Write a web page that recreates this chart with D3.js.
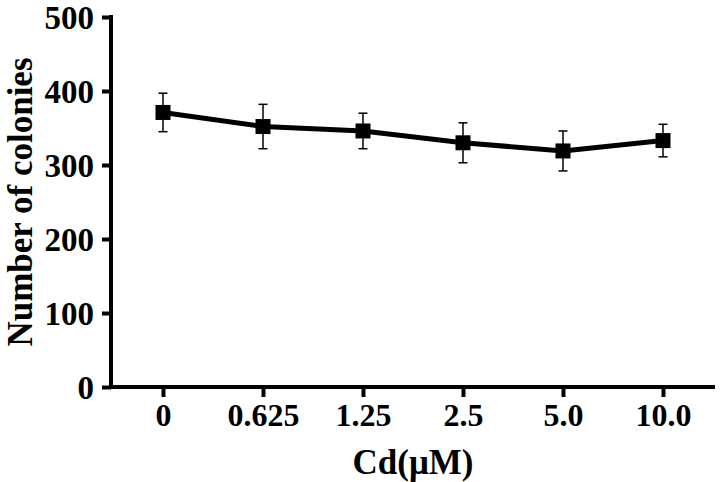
<!DOCTYPE html>
<html>
<head>
<meta charset="utf-8">
<script src="https://cdn.jsdelivr.net/npm/d3@7"></script>
<style>
  html, body { margin: 0; padding: 0; background: #fff; }
  svg { display: block; }
  text { font-family: "Liberation Serif", "Times New Roman", serif; font-weight: bold; fill: #000; }
</style>
</head>
<body>
<svg id="chart" width="720" height="482"></svg>
<script>
const categories = ["0", "0.625", "1.25", "2.5", "5.0", "10.0"];
const means = [371, 352, 346, 330, 319, 333];
const errors = [26, 30, 24, 27, 27, 22];
const yTicks = [0, 100, 200, 300, 400, 500];
const xTitle = "Cd(μM)";
const yTitle = "Number of colonies";

const svg = d3.select("#chart");
const mLeft = 111, mRight = 715, mTop = 17, mBottom = 387;

const x = d3.scalePoint().domain(categories).range([mLeft, mRight]).padding(0.52);
const y = d3.scaleLinear().domain([0, 500]).range([mBottom, mTop]);

// Y axis
const yAxis = svg.append("g").attr("transform", `translate(${mLeft},0)`)
  .call(d3.axisLeft(y).tickValues(yTicks).tickSize(9).tickSizeOuter(0).tickPadding(8));
yAxis.select(".domain").attr("stroke", "#000").attr("stroke-width", 4)
  .attr("d", `M0,${mTop - 2}V${mBottom + 2}`);
yAxis.selectAll(".tick line").attr("stroke", "#000").attr("stroke-width", 4);
yAxis.selectAll(".tick text").style("font-size", "33px").attr("dy", "0.34em");

// X axis
const xAxis = svg.append("g").attr("transform", `translate(0,${mBottom})`)
  .call(d3.axisBottom(x).tickSize(10).tickSizeOuter(0).tickPadding(6));
xAxis.select(".domain").attr("stroke", "#000").attr("stroke-width", 4)
  .attr("d", `M${mLeft - 2},0H${mRight}`);
xAxis.selectAll(".tick line").attr("stroke", "#000").attr("stroke-width", 4);
xAxis.selectAll(".tick text").style("font-size", "32px");

// Axis titles
svg.append("text").attr("x", 413).attr("y", 474).attr("text-anchor", "middle")
  .style("font-size", "35px").text(xTitle);
svg.append("text").attr("transform", `translate(32,${(mTop + mBottom) / 2}) rotate(-90)`)
  .attr("text-anchor", "middle").style("font-size", "35px").text(yTitle);

const data = categories.map((c, i) => ({c, m: means[i], e: errors[i]}));

// Error bars
const eb = svg.append("g");
data.forEach(d => {
  const cx = x(d.c);
  eb.append("line").attr("x1", cx).attr("x2", cx).attr("y1", y(d.m + d.e)).attr("y2", y(d.m - d.e))
    .attr("stroke", "#000").attr("stroke-width", 1.5);
  [d.m + d.e, d.m - d.e].forEach(v => {
    eb.append("line").attr("x1", cx - 4.5).attr("x2", cx + 4.5).attr("y1", y(v)).attr("y2", y(v))
      .attr("stroke", "#000").attr("stroke-width", 1.5);
  });
});

// Line
svg.append("path").datum(data)
  .attr("d", d3.line().x(d => x(d.c)).y(d => y(d.m)))
  .attr("fill", "none").attr("stroke", "#000").attr("stroke-width", 5).attr("stroke-linejoin", "round");

// Markers
const s = 15;
svg.append("g").selectAll("rect").data(data).join("rect")
  .attr("x", d => x(d.c) - s / 2).attr("y", d => y(d.m) - s / 2)
  .attr("width", s).attr("height", s).attr("fill", "#000");
</script>
</body>
</html>
